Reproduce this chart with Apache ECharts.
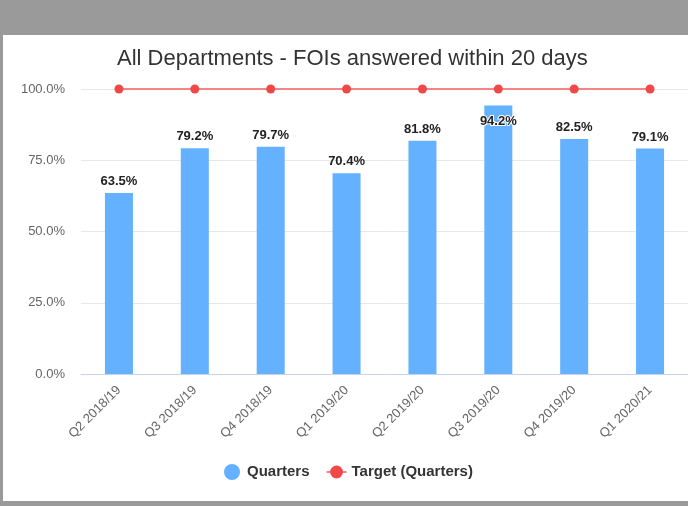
<!DOCTYPE html>
<html>
<head>
<meta charset="utf-8">
<script src="https://cdn.jsdelivr.net/npm/echarts@6/dist/echarts.min.js"></script>
<style>
html, body { margin: 0; padding: 0; background: #9a9a9a; width: 688px; height: 506px; overflow: hidden; }
#chart { position: absolute; left: 3px; top: 35px; width: 685px; height: 466px; background: #fff; }
</style>
</head>
<body>
<div id="chart"></div>
<script>
var quarters = ['Q2 2018/19', 'Q3 2018/19', 'Q4 2018/19', 'Q1 2019/20', 'Q2 2019/20', 'Q3 2019/20', 'Q4 2019/20', 'Q1 2020/21'];
var answered = [63.5, 79.2, 79.7, 70.4, 81.8, 94.2, 82.5, 79.1];
var target = [100, 100, 100, 100, 100, 100, 100, 100];

var font = '"Liberation Sans", Arial, sans-serif';

var barData = answered.map(function (v) {
    var item = { value: v };
    // the tallest bar has its label pushed inside the top of the bar
    if (v > 90) {
        item.label = { position: 'insideTop', distance: 9, textBorderColor: '#fff', textBorderWidth: 2 };
    }
    return item;
});

var myChart = echarts.init(document.getElementById('chart'));
myChart.setOption({
    animation: false,
    textStyle: { fontFamily: font },
    title: {
        text: 'All Departments - FOIs answered within 20 days',
        left: 109,
        top: 8,
        textStyle: { fontFamily: font, fontSize: 22, fontWeight: 'normal', color: '#333' }
    },
    grid: { left: 78, right: 0, top: 54, bottom: 127 },
    legend: {
        bottom: 16,
        left: 216,
        itemGap: 16,
        itemWidth: 20,
        itemHeight: 16,
        textStyle: { fontFamily: font, fontSize: 15, fontWeight: 'bold', color: '#333' },
        data: [
            { name: 'Quarters', icon: 'circle' },
            { name: 'Target (Quarters)' }
        ]
    },
    xAxis: {
        type: 'category',
        data: quarters,
        axisTick: { show: false },
        axisLine: { lineStyle: { color: '#c8d4ee' } },
        axisLabel: { rotate: 45, color: '#666', fontSize: 13, margin: 14, fontFamily: font }
    },
    yAxis: {
        type: 'value',
        min: 0,
        max: 100,
        interval: 25,
        axisLine: { show: false },
        axisTick: { show: false },
        splitLine: { lineStyle: { color: '#e8e8e8' } },
        axisLabel: {
            color: '#666', fontSize: 13, margin: 16, fontFamily: font,
            formatter: function (v) { return v.toFixed(1) + '%'; }
        }
    },
    series: [
        {
            name: 'Quarters',
            type: 'bar',
            barWidth: 28,
            data: barData,
            itemStyle: { color: '#63b1ff' },
            label: {
                show: true,
                position: 'top',
                distance: 5,
                color: '#222',
                fontSize: 13,
                fontWeight: 'bold',
                fontFamily: font,
                formatter: function (p) { return p.value.toFixed(1) + '%'; }
            }
        },
        {
            name: 'Target (Quarters)',
            type: 'line',
            data: target,
            symbol: 'circle',
            symbolSize: 9,
            itemStyle: { color: '#f04848' },
            lineStyle: { color: '#f38585', width: 2 }
        }
    ]
});
</script>
</body>
</html>
